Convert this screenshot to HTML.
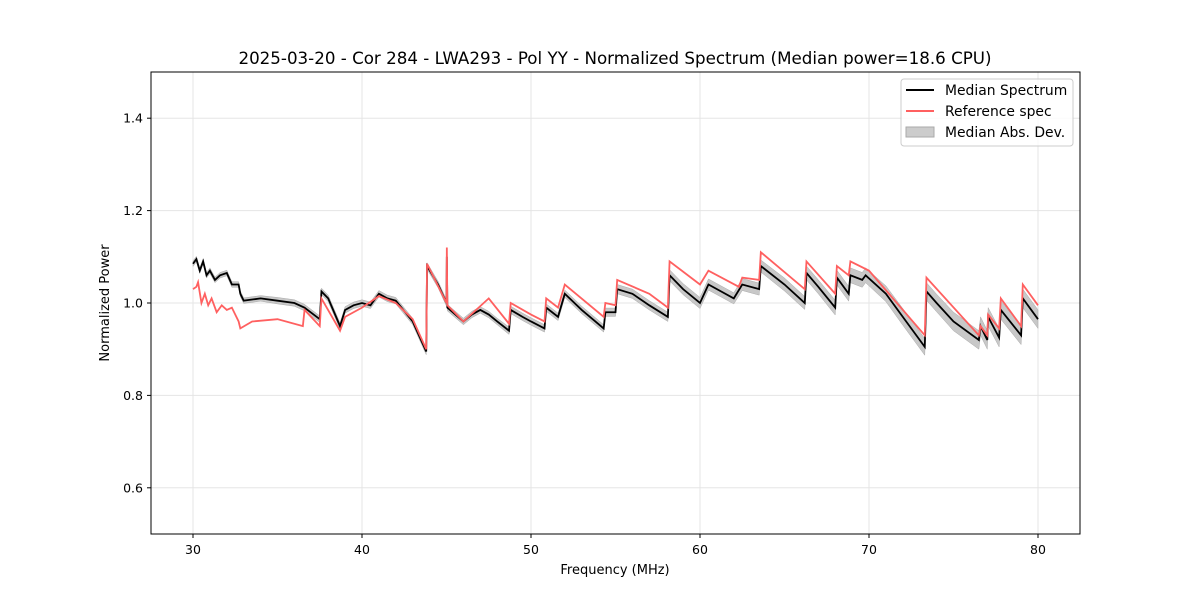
<!DOCTYPE html>
<html><head><meta charset="utf-8"><style>
body{margin:0;background:#fff;font-family:"Liberation Sans","DejaVu Sans",sans-serif}
svg text{font-family:"DejaVu Sans","Liberation Sans",sans-serif}
</style></head><body>
<svg id="c" width="1200" height="600" xmlns="http://www.w3.org/2000/svg">
<rect width="1200" height="600" fill="#fff"/>
<text x="615" y="64" text-anchor="middle" font-size="16.7">2025-03-20 - Cor 284 - LWA293 - Pol YY - Normalized Spectrum (Median power=18.6 CPU)</text>
<g id="grid"></g><g id="mad"></g><g id="lines"></g><g id="ticks"></g>
<rect x="151" y="72" width="929" height="462" fill="none" stroke="#000" stroke-width="1"/>
<text x="615" y="574" text-anchor="middle" font-size="13">Frequency (MHz)</text>
<text transform="translate(109,303) rotate(-90)" text-anchor="middle" font-size="13">Normalized Power</text>
<g>
<rect x="901" y="79" width="172" height="67" rx="3" fill="#fff" fill-opacity="0.8" stroke="#ccc"/>
<line x1="906" y1="90" x2="934" y2="90" stroke="#000" stroke-width="2"/>
<text x="945" y="95" font-size="13.9">Median Spectrum</text>
<line x1="906" y1="111" x2="934" y2="111" stroke="#ff6060" stroke-width="2"/>
<text x="945" y="116" font-size="13.9">Reference spec</text>
<rect x="906" y="127" width="28" height="10" fill="#ccc" stroke="#aaa"/>
<text x="945" y="137" font-size="13.9">Median Abs. Dev.</text>
</g>
</svg>
<script>
const medF=[30,30.2,30.4,30.6,30.8,31,31.3,31.6,32,32.3,32.7,32.8,33,34,35,36,36.6,37.5,37.6,38,38.7,39,39.5,40,40.5,41,41.5,42,43,43.8,43.85,44.5,45,45.02,45.05,46,46.5,47,47.5,48,48.7,48.8,49.5,50,50.8,50.9,51.6,52,53,54.3,54.4,55,55.1,56,57,58.1,58.2,59,60,60.5,61,62,62.5,63.5,63.6,65,66.2,66.3,67,68,68.1,68.8,68.9,69.6,69.8,71,72,73.3,73.4,74,75,76.5,76.6,77,77.05,77.7,77.8,79,79.1,80];
const medV=[1.085,1.095,1.07,1.09,1.06,1.07,1.05,1.06,1.065,1.04,1.04,1.02,1.005,1.01,1.005,1.0,0.99,0.965,1.025,1.01,0.95,0.985,0.995,1.0,0.995,1.02,1.01,1.005,0.96,0.895,1.08,1.04,1.0,1.1,0.99,0.96,0.975,0.985,0.975,0.96,0.94,0.985,0.97,0.96,0.945,0.99,0.97,1.02,0.985,0.945,0.98,0.98,1.03,1.02,0.995,0.97,1.06,1.03,1.0,1.04,1.03,1.01,1.04,1.03,1.08,1.04,1.0,1.065,1.035,0.99,1.055,1.02,1.06,1.05,1.06,1.02,0.97,0.905,1.025,1.0,0.96,0.92,0.95,0.92,0.97,0.925,0.985,0.93,1.01,0.965];
const madV=[0.006,0.006,0.006,0.006,0.006,0.006,0.006,0.006,0.006,0.006,0.006,0.006,0.006,0.006,0.007,0.007,0.007,0.007,0.007,0.007,0.007,0.007,0.007,0.007,0.007,0.007,0.007,0.007,0.007,0.007,0.007,0.007,0.007,0.007,0.007,0.007,0.007,0.007,0.007,0.007,0.008,0.008,0.008,0.008,0.008,0.008,0.008,0.008,0.008,0.008,0.009,0.009,0.01,0.01,0.01,0.01,0.012,0.012,0.012,0.012,0.012,0.012,0.013,0.013,0.013,0.014,0.014,0.015,0.015,0.016,0.016,0.016,0.016,0.016,0.016,0.017,0.018,0.018,0.019,0.019,0.02,0.02,0.02,0.02,0.02,0.02,0.02,0.02,0.02,0.02];
const refF=[30,30.2,30.3,30.5,30.7,30.9,31.1,31.4,31.7,32,32.3,32.7,32.8,33.5,35,36.5,36.6,37.5,37.6,38.7,39,40,41,42,43,43.8,43.85,45,45.02,45.05,46,47.5,48.7,48.8,50,50.8,50.9,51.6,52,54.3,54.4,55,55.1,57,58.1,58.2,60,60.5,62.3,62.5,63.5,63.6,66.2,66.3,68,68.1,68.8,68.9,70,73.3,73.4,76.5,76.6,77,77.05,77.7,77.8,79,79.1,80];
const refV=[1.03,1.035,1.045,1.0,1.02,0.995,1.01,0.98,0.995,0.985,0.99,0.96,0.945,0.96,0.965,0.95,0.985,0.95,1.01,0.94,0.97,0.99,1.015,1.0,0.965,0.9,1.085,1.0,1.12,0.995,0.96,1.01,0.955,1.0,0.975,0.96,1.01,0.99,1.04,0.97,1.0,0.995,1.05,1.02,0.99,1.09,1.04,1.07,1.035,1.055,1.05,1.11,1.03,1.09,1.02,1.08,1.06,1.09,1.07,0.93,1.055,0.93,0.95,0.93,0.975,0.945,1.01,0.95,1.04,0.995];
const xTicks=[30,40,50,60,70,80];
const yTicks=[0.6,0.8,1.0,1.2,1.4];
const X=f=>193+(f-30)*16.9;
const Y=v=>534-(v-0.5)*462;
const NS='http://www.w3.org/2000/svg';
function mk(t,a,p){const e=document.createElementNS(NS,t);for(const k in a)e.setAttribute(k,a[k]);p.appendChild(e);return e;}
const grid=document.getElementById('grid'),ticks=document.getElementById('ticks');
xTicks.forEach(t=>{
 const g=mk('line',{x1:X(t),x2:X(t),y1:72,y2:534,stroke:'#e5e5e5'},grid);
 
 
 mk('line',{x1:X(t),x2:X(t),y1:534,y2:538,stroke:'#000'},ticks);
 const l=mk('text',{x:X(t),y:554,'text-anchor':'middle','font-size':'12.5'},ticks);l.textContent=t;
 
 
});
yTicks.forEach(t=>{
 const g=mk('line',{x1:151,x2:1080,y1:Y(t),y2:Y(t),stroke:'#e5e5e5'},grid);
 
 
 mk('line',{x1:147,x2:151,y1:Y(t),y2:Y(t),stroke:'#000'},ticks);
 const l=mk('text',{x:143,y:Y(t)+4.5,'text-anchor':'end','font-size':'12.5'},ticks);l.textContent=t.toFixed(1);
 
 
});
let up=medF.map((f,i)=>X(f)+','+Y(medV[i]+madV[i]));
let dn=medF.map((f,i)=>X(f)+','+Y(medV[i]-madV[i])).reverse();
const band=mk('polygon',{points:up.concat(dn).join(' '),fill:'#c8c8c8',stroke:'#aaa','stroke-width':0.5},document.getElementById('mad'));


const lines=document.getElementById('lines');
const med=mk('polyline',{points:medF.map((f,i)=>X(f)+','+Y(medV[i])).join(' '),fill:'none',stroke:'#000','stroke-width':1.8},lines);


const ref=mk('polyline',{points:refF.map((f,i)=>X(f)+','+Y(refV[i])).join(' '),fill:'none',stroke:'#ff6060','stroke-width':1.8},lines);


</script>
</body></html>
